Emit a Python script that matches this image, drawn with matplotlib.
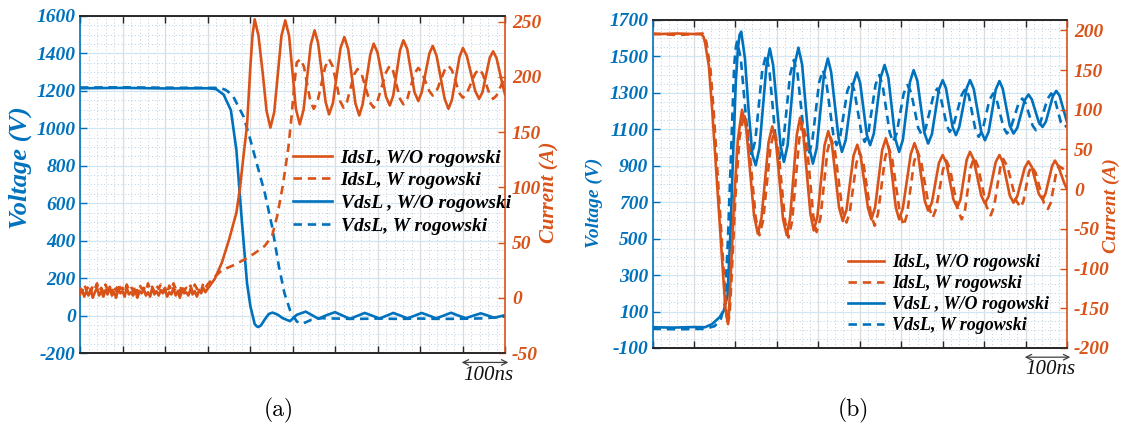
import matplotlib
matplotlib.use("Agg")
import matplotlib.pyplot as plt
import numpy as np
from matplotlib.ticker import MultipleLocator, AutoMinorLocator
from matplotlib.lines import Line2D

plt.rcParams['font.family'] = ['Liberation Serif', 'DejaVu Serif']
plt.rcParams['axes.unicode_minus'] = False

BLUE = '#0072BD'
ORANGE = '#D95319'
DARK = '#262626'

# ---------------- Panel (a) data (time in ns) ----------------
ta_v_wo = [0, 100, 200, 300, 320, 338, 355, 368, 380, 393, 401, 411, 416, 420, 426, 435, 444, 453,
           465, 477, 494, 510, 531, 546, 561, 580, 600, 618, 635, 652, 670, 688, 705, 721, 737, 754,
           770, 787, 804, 821, 838, 856, 873, 890, 908, 925, 943, 960, 975, 1000]
va_v_wo = [1214, 1216, 1213, 1214, 1210, 1180, 1097, 884, 528, 173, 49, -45, -58, -61, -52, -20, 8, 16,
           5, -14, -30, 4, 21, 2, -17, 2, 18, 0, -18, -2, 14, -1, -16, -1, 14, 0, -15, -1, 14, 0, -15,
           0, 15, 0, -14, -1, 12, 0, -12, 2]

ta_v_w = [0, 100, 200, 330, 343, 359, 385, 401, 418, 435, 452, 468, 481, 494, 510, 523, 544, 569,
          600, 650, 700, 750, 800, 850, 900, 950, 1000]
va_v_w = [1218, 1219, 1217, 1216, 1205, 1177, 1062, 937, 795, 653, 475, 262, 120, 30, -32, -44, -23, -14,
          -16, -18, -16, -18, -16, -18, -17, -15, -5]

ta_i_noise = np.linspace(0, 300, 61)
ia_wo_noise = [3, 7, 1, 6, 2, 8, 0, 5, 9, 2, 6, 1, 7, 3, 10, 2, 5, 0, 8, 4, 6, 1, 9, 3, 5, 2, 7, 0, 6, 4,
               8, 2, 5, 1, 9, 3, 6, 2, 7, 4, 8, 1, 5, 3, 9, 2, 6, 0, 7, 4, 5, 2, 8, 3, 6, 1, 7, 4, 9, 5, 8]
ia_w_noise = [9, 5, 12, 7, 10, 4, 11, 8, 13, 6, 9, 5, 12, 7, 10, 4, 11, 6, 13, 8, 9, 5, 12, 7, 10, 6, 11,
              4, 12, 8, 9, 6, 13, 7, 10, 5, 11, 8, 12, 6, 9, 4, 11, 7, 13, 8, 10, 5, 12, 6, 9, 7, 11, 5,
              12, 8, 10, 6, 13, 9, 12]

ta_i_wo = [317, 334, 351, 368, 376, 384, 393, 401, 406, 411, 420, 430, 439, 448, 457, 474, 483, 492,
           508, 517, 526, 543, 552, 560, 578, 586, 595, 613, 622, 631, 648, 657, 665, 683, 691, 700,
           720, 729, 737, 753, 761, 770, 787, 796, 804, 822, 830, 839, 858, 867, 875, 893, 901, 910,
           930, 939, 947, 964, 972, 980, 993, 1000]
ia_i_wo = [17, 32, 53, 77, 98, 126, 156, 210, 238, 252, 237, 203, 169, 154, 168, 237, 251, 237,
           171, 157, 170, 229, 242, 231, 177, 166, 176, 226, 236, 225, 176, 165, 175, 220, 230, 222,
           182, 174, 183, 224, 233, 225, 186, 178, 186, 221, 228, 219, 180, 171, 179, 218, 226, 219,
           187, 180, 186, 217, 223, 217, 195, 184]

ta_i_w = [317, 334, 359, 384, 410, 435, 452, 464, 477, 490, 498, 504, 510, 519, 527, 542, 550, 559,
          577, 586, 595, 612, 620, 628, 645, 653, 663, 682, 691, 700, 720, 729, 737, 753, 761, 770,
          787, 796, 804, 822, 830, 839, 858, 867, 875, 893, 901, 910, 930, 939, 947, 964, 972, 980,
          993, 1000]
ia_i_w = [19, 25, 29, 34, 40, 47, 56, 74, 101, 135, 165, 192, 213, 216, 209, 178, 171, 178,
          209, 216, 209, 178, 172, 177, 202, 207, 202, 177, 172, 178, 204, 210, 205, 180, 175, 180,
          203, 208, 204, 187, 183, 187, 206, 210, 206, 185, 181, 185, 203, 207, 203, 184, 180, 183,
          194, 198]

# ---------------- Panel (b) data ----------------
tb_i_wo = [0, 60, 118, 123, 127, 136, 144, 153, 162, 171, 176, 181, 184, 188, 197, 206, 216, 226, 245,
           254, 263, 280, 289, 298, 315, 324, 332, 348, 356, 364, 381, 389, 398, 415, 424, 433, 450,
           459, 468, 485, 494, 502, 520, 528, 537, 554, 563, 571, 587, 595, 604, 623, 632, 640, 657,
           665, 674, 691, 700, 709, 726, 735, 743, 758, 766, 775, 793, 802, 811, 828, 837, 845, 862,
           871, 880, 898, 907, 915, 932, 941, 948, 964, 971, 979, 993, 1000]
ib_i_wo = [195, 196, 195, 192, 184, 155, 100, 29, -42, -113, -150, -167, -160, -117, -13, 63, 100, 77, -33,
           -56, -36, 59, 79, 59, -38, -58, -36, 68, 90, 69, -31, -52, -34, 55, 73, 56, -23,
           -40, -26, 42, 56, 42, -24, -38, -23, 49, 64, 49, -23, -38, -24, 44, 58, 46, -15,
           -27, -17, 33, 43, 33, -13, -23, -13, 37, 47, 37, -8, -18, -9, 34, 43, 34, -8,
           -17, -9, 27, 35, 28, -6, -13, -6, 29, 36, 29, 8, 0]

tb_i_w = [0, 60, 121, 126, 130, 140, 148, 157, 166, 175, 179, 182, 186, 190, 200, 210, 221, 230, 249,
          258, 267, 285, 294, 303, 320, 328, 337, 354, 362, 371, 388, 396, 405, 422, 430, 440, 458,
          468, 476, 492, 500, 509, 527, 536, 544, 561, 569, 578, 597, 606, 614, 631, 639, 648, 667,
          676, 684, 701, 709, 718, 737, 746, 754, 768, 776, 785, 806, 816, 824, 839, 846, 856, 877,
          888, 895, 908, 914, 924, 944, 954, 961, 974, 980, 990, 1000]
ib_i_w = [196, 194, 196, 192, 185, 150, 95, 20, -55, -130, -160, -170, -158, -120, -10, 65, 95, 73, -36,
          -58, -39, 54, 73, 53, -41, -61, -40, 63, 84, 64, -34, -54, -37, 48, 65, 49, -26,
          -42, -29, 33, 46, 32, -32, -46, -31, 39, 54, 39, -31, -46, -32, 34, 48, 35, -23,
          -36, -25, 25, 36, 25, -27, -38, -26, 28, 40, 29, -22, -33, -22, 27, 38, 29, -14,
          -23, -15, 21, 29, 21, -17, -25, -17, 21, 29, 26, 15]

tb_v_wo = [0, 50, 100, 127, 144, 162, 172, 181, 188, 195, 201, 206, 210, 214, 223, 232, 241, 249, 258,
           275, 283, 291, 309, 317, 326, 343, 352, 361, 378, 387, 396, 414, 423, 431, 449, 457, 466,
           484, 493, 501, 517, 525, 534, 551, 560, 569, 586, 595, 604, 621, 630, 639, 656, 665, 674,
           691, 700, 708, 724, 732, 740, 758, 766, 775, 793, 802, 811, 828, 837, 845, 862, 871, 880,
           898, 907, 915, 932, 941, 949, 966, 974, 982, 1000]
vb_v_wo = [14, 12, 15, 14, 32, 69, 105, 188, 536, 994, 1361, 1540, 1618, 1636, 1490, 1200, 960, 903, 997,
           1450, 1544, 1453, 1012, 921, 1013, 1456, 1548, 1455, 1005, 912, 996, 1405, 1489, 1414, 1051, 976, 1040,
           1348, 1412, 1354, 1071, 1013, 1077, 1389, 1453, 1383, 1046, 976, 1042, 1359, 1425, 1366, 1081, 1022, 1073,
           1319, 1370, 1326, 1112, 1068, 1112, 1326, 1370, 1322, 1088, 1040, 1087, 1318, 1365, 1323, 1119, 1077, 1108,
           1260, 1291, 1265, 1139, 1113, 1142, 1282, 1311, 1285, 1140]

tb_v_w = [0, 60, 127, 150, 165, 175, 182, 190, 197, 201, 204, 213, 230, 239, 248, 265, 274, 282, 298,
          306, 315, 332, 341, 350, 367, 376, 385, 402, 411, 419, 436, 444, 453, 470, 479, 487, 504,
          512, 521, 538, 547, 555, 572, 580, 589, 606, 615, 624, 641, 650, 659, 678, 687, 694, 710,
          717, 726, 746, 755, 763, 779, 787, 796, 813, 822, 830, 847, 855, 864, 883, 892, 900, 917,
          925, 934, 953, 962, 970, 985, 993, 1000]
vb_v_w = [5, 3, 5, 20, 60, 150, 500, 1000, 1450, 1550, 1581, 1490, 1049, 958, 1038, 1428, 1508, 1425, 1022,
          939, 1018, 1401, 1480, 1404, 1034, 958, 1026, 1357, 1425, 1365, 1073, 1013, 1064, 1310, 1361, 1313, 1079,
          1031, 1085, 1344, 1398, 1344, 1085, 1031, 1077, 1297, 1343, 1303, 1108, 1068, 1105, 1287, 1324, 1289, 1121,
          1086, 1121, 1289, 1324, 1285, 1098, 1059, 1094, 1262, 1297, 1265, 1109, 1077, 1105, 1241, 1269, 1243, 1121,
          1095, 1125, 1267, 1297, 1270, 1140, 1113, 1120]

labels = ['IdsL, W/O rogowski', 'IdsL, W rogowski', 'VdsL , W/O rogowski', 'VdsL, W rogowski']

W, H = 1129, 432
fig = plt.figure(figsize=(W / 100, H / 100), dpi=100)


def px_axes(l, t, r, b):
    return fig.add_axes([l / W, 1 - b / H, (r - l) / W, (b - t) / H])


def setup(ax, ax2, ylim, yticks, ylim2, yticks2):
    ax.set_xlim(0, 1000)
    ax.set_xticks(np.arange(0, 1001, 100))
    ax.xaxis.set_minor_locator(MultipleLocator(20))
    ax.set_ylim(*ylim)
    ax.set_yticks(yticks)
    ax.yaxis.set_minor_locator(AutoMinorLocator(4))
    ax.grid(True, which='major', axis='x', color='#dcdcdc', lw=0.9)
    ax.grid(True, which='major', axis='y', color='#d2e5f3', lw=0.9)
    ax.grid(True, which='minor', axis='x', color='#c2ccd6', lw=0.7, ls=(0, (1, 2.5)))
    ax.grid(True, which='minor', axis='y', color='#b5d1e8', lw=0.7, ls=(0, (1, 2.5)))
    ax.set_axisbelow(True)
    ax.tick_params(axis='x', which='major', direction='in', top=True, bottom=True, length=5,
                   width=1, color=DARK, labelbottom=False)
    ax.tick_params(which='minor', length=0)
    ax.tick_params(axis='y', which='major', direction='in', length=5, width=1, color=BLUE,
                   labelcolor=BLUE, labelsize=14, pad=3)
    for tl in ax.get_yticklabels():
        tl.set_fontweight('bold')
        tl.set_fontstyle('italic')
    ax2.set_ylim(*ylim2)
    ax2.set_yticks(yticks2)
    ax2.tick_params(axis='y', which='major', direction='in', length=5, width=1, color=ORANGE,
                    labelcolor=ORANGE, labelsize=14, pad=5)
    ax2.tick_params(axis='y', which='minor', length=0)
    for tl in ax2.get_yticklabels():
        tl.set_fontweight('bold')
        tl.set_fontstyle('italic')
    ax.spines['left'].set_color(BLUE)
    ax.spines['right'].set_visible(False)
    ax2.spines['left'].set_visible(False)
    ax2.spines['right'].set_color(ORANGE)
    for a in (ax, ax2):
        for s in ('top', 'bottom'):
            a.spines[s].set_color(DARK)
        for s in a.spines.values():
            s.set_linewidth(1.2)


LW = 1.9
DASH = (0, (3.2, 2.2))

# ---------------- Panel (a) ----------------
axa = px_axes(80, 16, 505, 353)
axa2 = axa.twinx()
setup(axa, axa2, (-200, 1600), np.arange(-200, 1601, 200), (-50, 255), np.arange(-50, 251, 50))
axa.plot(ta_v_wo, va_v_wo, color=BLUE, lw=LW)
axa.plot(ta_v_w, va_v_w, color=BLUE, lw=LW, ls=DASH)
axa2.plot(list(ta_i_noise) + ta_i_wo, ia_wo_noise + ia_i_wo, color=ORANGE, lw=LW)
axa2.plot(list(ta_i_noise) + ta_i_w, ia_w_noise + ia_i_w, color=ORANGE, lw=LW, ls=DASH)

# ---------------- Panel (b) ----------------
axb = px_axes(652.5, 20, 1067, 348)
axb2 = axb.twinx()
setup(axb, axb2, (-100, 1700), np.arange(-100, 1701, 200), (-200, 213), np.arange(-200, 201, 50))
axb.plot(tb_v_wo, vb_v_wo, color=BLUE, lw=LW)
axb.plot(tb_v_w, vb_v_w, color=BLUE, lw=LW, ls=DASH)
axb2.plot(tb_i_wo, ib_i_wo, color=ORANGE, lw=LW)
axb2.plot(tb_i_w, ib_i_w, color=ORANGE, lw=LW, ls=DASH)

handles = [Line2D([], [], color=ORANGE, lw=LW), Line2D([], [], color=ORANGE, lw=LW, ls=DASH),
           Line2D([], [], color=BLUE, lw=LW), Line2D([], [], color=BLUE, lw=LW, ls=DASH)]

for ax2, (lx, ly), fs, sp in ((axa2, (293, 149), 14, 0.26), (axb2, (848, 254), 13, 0.22)):
    leg = ax2.legend(handles, labels, loc='upper left', bbox_to_anchor=(lx / W, 1 - ly / H),
                     bbox_transform=fig.transFigure, frameon=False, borderpad=0, borderaxespad=0,
                     handlelength=2.0, handletextpad=0.45, labelspacing=sp,
                     prop=dict(family='Liberation Serif', weight='bold', style='italic', size=fs))

# axis labels
fig.text(20 / W, 1 - 168 / H, 'Voltage (V)', rotation=90, ha='center', va='center', color=BLUE,
         fontsize=19, fontweight='bold', fontstyle='italic')
fig.text(549 / W, 1 - 192 / H, 'Current (A)', rotation=90, ha='center', va='center', color=ORANGE,
         fontsize=15, fontweight='bold', fontstyle='italic')
fig.text(594 / W, 1 - 203 / H, 'Voltage (V)', rotation=90, ha='center', va='center', color=BLUE,
         fontsize=14, fontweight='bold', fontstyle='italic')
fig.text(1111 / W, 1 - 206 / H, 'Current (A)', rotation=90, ha='center', va='center', color=ORANGE,
         fontsize=14, fontweight='bold', fontstyle='italic')

# 100ns scale markers
for ax in (axa, axb):
    ax.annotate('', xy=(1008, -0.028), xytext=(898, -0.028), xycoords=('data', 'axes fraction'),
                textcoords=('data', 'axes fraction'), annotation_clip=False,
                arrowprops=dict(arrowstyle='<->', color='#404040', lw=0.9, shrinkA=0, shrinkB=0))
    ax.text(960, -0.066, '100ns', transform=ax.get_xaxis_transform(), ha='center', va='center',
            fontsize=15, fontstyle='italic', color='#111111', clip_on=False)

fig.text(279 / W, 1 - 410 / H, '(a)', ha='center', va='center', fontsize=17, family='cmr10')
fig.text(853 / W, 1 - 410 / H, '(b)', ha='center', va='center', fontsize=17, family='cmr10')

fig.savefig('out.png', dpi=100)
